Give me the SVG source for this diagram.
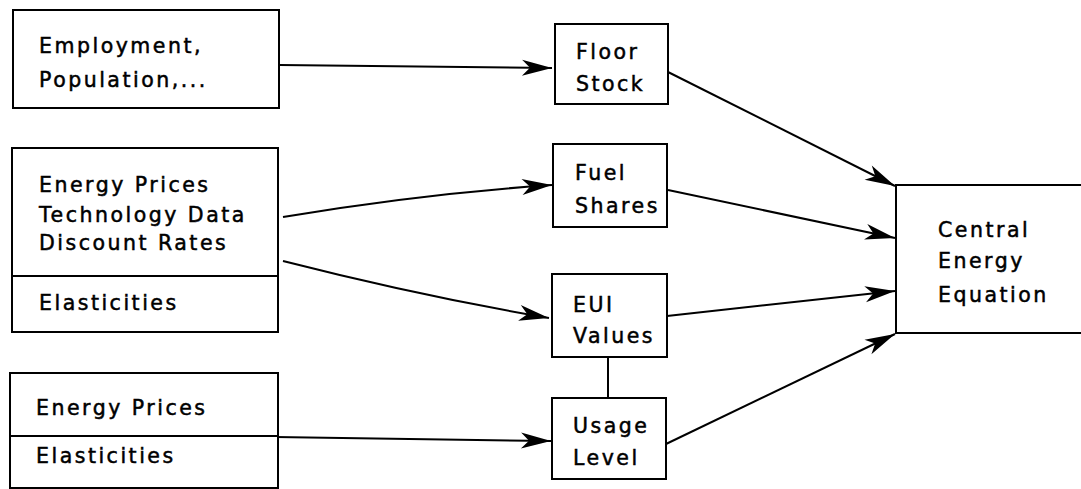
<svg xmlns="http://www.w3.org/2000/svg" width="1081" height="489" viewBox="0 0 1081 489">
<style>
.box{fill:#fff;stroke:#000;stroke-width:2}
.div{stroke:#000;stroke-width:2}
.t{font-family:"DejaVu Sans",sans-serif;font-size:20.5px;letter-spacing:2.5px;fill:#000;stroke:#000;stroke-width:0.5}
.c{fill:none;stroke:#000;stroke-width:2}
</style>
<defs>
<marker id="ah" markerUnits="userSpaceOnUse" markerWidth="40" markerHeight="24" viewBox="-32 -12 34 24" refX="0" refY="0" orient="auto">
<path d="M0,0 L-30,-8 L-22,0 L-30,8 Z" fill="#000"/>
</marker>
</defs>
<rect width="1081" height="489" fill="#fff"/>
<g id="connectors">
<path class="c" d="M280,65 L552,68" marker-end="url(#ah)"/>
<path class="c" d="M668,72 L895,186" marker-end="url(#ah)"/>
<path class="c" d="M283,217 Q420,194 552,185" marker-end="url(#ah)"/>
<path class="c" d="M283,261 Q420,296 549,318" marker-end="url(#ah)"/>
<path class="c" d="M668,190 L895,238" marker-end="url(#ah)"/>
<path class="c" d="M667,316 L895,291" marker-end="url(#ah)"/>
<path class="c" d="M275,437 L551,441" marker-end="url(#ah)"/>
<path class="c" d="M666,444 L895,334" marker-end="url(#ah)"/>
<line class="c" x1="608" y1="357" x2="608" y2="398"/>
</g>
<g id="employment">
<rect class="box" x="13" y="10" width="266" height="98"/>
<text class="t" x="39" y="53">Employment,</text>
<text class="t" x="39" y="87">Population,...</text>
</g>
<g id="prices-tech">
<rect class="box" x="12" y="148" width="266" height="184"/>
<line class="div" x1="12" y1="276" x2="278" y2="276"/>
<text class="t" x="39" y="192">Energy Prices</text>
<text class="t" x="39" y="222">Technology Data</text>
<text class="t" x="39" y="250">Discount Rates</text>
<text class="t" x="39" y="310">Elasticities</text>
</g>
<g id="prices-elast">
<rect class="box" x="10" y="373" width="268" height="115"/>
<line class="div" x1="10" y1="436" x2="278" y2="436"/>
<text class="t" x="36" y="415">Energy Prices</text>
<text class="t" x="36" y="463">Elasticities</text>
</g>
<g id="floor-stock">
<rect class="box" x="555" y="24" width="113" height="80"/>
<text class="t" x="576" y="59">Floor</text>
<text class="t" x="576" y="91">Stock</text>
</g>
<g id="fuel-shares">
<rect class="box" x="553" y="144" width="114" height="83"/>
<text class="t" x="575" y="180">Fuel</text>
<text class="t" x="575" y="213">Shares</text>
</g>
<g id="eui-values">
<rect class="box" x="552" y="274" width="115" height="83"/>
<text class="t" x="573" y="312">EUI</text>
<text class="t" x="573" y="343">Values</text>
</g>
<g id="usage-level">
<rect class="box" x="552" y="398" width="114" height="81"/>
<text class="t" x="573" y="433">Usage</text>
<text class="t" x="573" y="465">Level</text>
</g>
<g id="central">
<rect class="box" x="896" y="185" width="200" height="148"/>
<text class="t" x="938" y="237">Central</text>
<text class="t" x="938" y="268">Energy</text>
<text class="t" x="938" y="302">Equation</text>
</g>
</svg>
